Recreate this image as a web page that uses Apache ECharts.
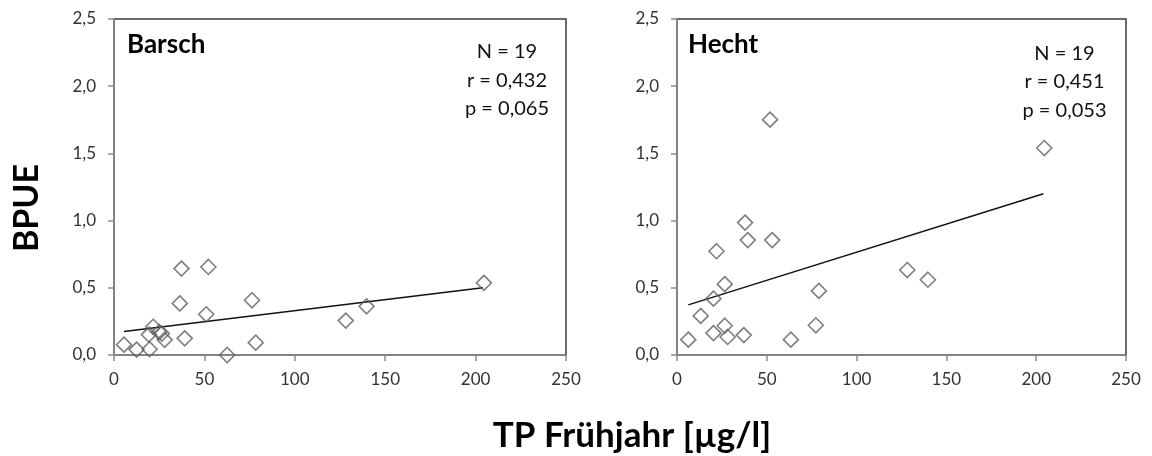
<!DOCTYPE html>
<html>
<head>
<meta charset="utf-8">
<script src="https://cdn.jsdelivr.net/npm/echarts@6/dist/echarts.min.js"></script>
<style>
html,body{margin:0;padding:0;background:#fff;}
#c{width:1152px;height:456px;}
</style>
</head>
<body>
<div id="c"></div>
<script>
// ---- data ----
const xTickValues = [0, 50, 100, 150, 200, 250];
const xTickLabels = ['0', '50', '100', '150', '200', '250'];
const yTickValues = [0, 0.5, 1.0, 1.5, 2.0, 2.5];
const yTickLabels = ['0,0', '0,5', '1,0', '1,5', '2,0', '2,5'];

const barschTP   = [5.5, 12.5, 19.7, 19.3, 21.7, 25.0, 26.5, 28.0, 37.3, 52.2, 36.4, 39.1, 51.0, 62.6, 76.3, 78.4, 128.2, 139.7, 204.6];
const barschBPUE = [0.077, 0.04, 0.043, 0.152, 0.21, 0.17, 0.16, 0.113, 0.643, 0.655, 0.384, 0.124, 0.303, 0.0, 0.407, 0.092, 0.256, 0.362, 0.537];
const barschTrendTP   = [5.5, 204.0];
const barschTrendBPUE = [0.175, 0.5];

const hechtTP   = [6.3, 13.2, 20.3, 20.3, 22.0, 26.6, 26.6, 28.2, 37.2, 37.9, 39.4, 51.8, 53.0, 63.4, 77.3, 79.0, 128.2, 139.7, 204.5];
const hechtBPUE = [0.114, 0.291, 0.163, 0.419, 0.772, 0.527, 0.218, 0.134, 0.148, 0.985, 0.855, 1.751, 0.855, 0.114, 0.221, 0.477, 0.632, 0.56, 1.54];
const hechtTrendTP   = [6.3, 204.0];
const hechtTrendBPUE = [0.373, 1.2];

const panelNames = ['Barsch', 'Hecht'];
const statsBarsch = ['N = 19', 'r = 0,432', 'p = 0,065'];
const statsHecht  = ['N = 19', 'r = 0,451', 'p = 0,053'];
const yTitle = 'BPUE';
const xTitle = 'TP Frühjahr [µg/l]';

// ---- build ----
const FONT = 'Lato, "Noto Sans", sans-serif';
const pairs = (xs, ys) => xs.map((x, i) => [x, ys[i]]);

function xAxisCfg(gi) {
  return {
    gridIndex: gi, type: 'value', min: 0, max: 250, interval: 50,
    axisLine: {show: true, lineStyle: {color: '#8c8c8c', width: 1.5}},
    axisTick: {show: true, inside: false, length: 6, lineStyle: {color: '#8c8c8c', width: 1.5}},
    axisLabel: {
      margin: 16, fontFamily: FONT, fontSize: 17, color: '#333',
      formatter: v => xTickLabels[xTickValues.indexOf(v)]
    },
    splitLine: {show: false}
  };
}
function yAxisCfg(gi) {
  return {
    gridIndex: gi, type: 'value', min: 0, max: 2.5, interval: 0.5,
    axisLine: {show: true, lineStyle: {color: '#8c8c8c', width: 1.5}},
    axisTick: {show: true, inside: false, length: 6, lineStyle: {color: '#8c8c8c', width: 1.5}},
    axisLabel: {
      margin: 18, fontFamily: FONT, fontSize: 17, color: '#333',
      formatter: v => yTickLabels[yTickValues.findIndex(t => Math.abs(t - v) < 1e-9)]
    },
    splitLine: {show: false}
  };
}
const scatterStyle = {color: 'rgba(255,255,255,0)', borderColor: '#5f5f5f', borderWidth: 1.6};

function scatterSeries(gi, xs, ys) {
  return {
    type: 'scatter', xAxisIndex: gi, yAxisIndex: gi,
    symbol: 'diamond', symbolSize: 15,
    itemStyle: scatterStyle, data: pairs(xs, ys), z: 3
  };
}
function trendSeries(gi, xs, ys) {
  return {
    type: 'line', xAxisIndex: gi, yAxisIndex: gi, symbol: 'none',
    lineStyle: {color: '#111', width: 1.4}, data: pairs(xs, ys), z: 2
  };
}
function statsText(cx, y0, lines) {
  return lines.map((t, i) => ({
    type: 'text', x: cx, y: y0 + i * 28.5, z: 10,
    style: {text: t, fontFamily: FONT, fontSize: 20, fill: '#111', align: 'center', verticalAlign: 'middle'}
  }));
}

const grids = [
  {left: 114, top: 19, width: 452, height: 336},
  {left: 677, top: 19, width: 449, height: 336}
];

const option = {
  backgroundColor: '#fff',
  animation: false,
  grid: grids.map(g => Object.assign({show: true, borderColor: '#3a3a3a', borderWidth: 1.5, backgroundColor: 'transparent'}, g)),
  xAxis: [xAxisCfg(0), xAxisCfg(1)],
  yAxis: [yAxisCfg(0), yAxisCfg(1)],
  series: [
    trendSeries(0, barschTrendTP, barschTrendBPUE),
    scatterSeries(0, barschTP, barschBPUE),
    trendSeries(1, hechtTrendTP, hechtTrendBPUE),
    scatterSeries(1, hechtTP, hechtBPUE)
  ],
  graphic: [
    {type: 'text', x: 127, y: 45, z: 10,
     style: {text: panelNames[0], fontFamily: FONT, fontWeight: 'bold', fontSize: 26, fill: '#000', verticalAlign: 'middle'}},
    {type: 'text', x: 688, y: 45, z: 10,
     style: {text: panelNames[1], fontFamily: FONT, fontWeight: 'bold', fontSize: 26, fill: '#000', verticalAlign: 'middle'}},
    ...statsText(507, 52, statsBarsch),
    ...statsText(1064.5, 53.5, statsHecht),
    {type: 'text', x: 27, y: 208, rotation: Math.PI / 2, z: 10,
     style: {text: yTitle, fontFamily: FONT, fontWeight: 'bold', fontSize: 34, fill: '#000', align: 'center', verticalAlign: 'middle'}},
    {type: 'text', x: 632, y: 436, z: 10,
     style: {text: xTitle, fontFamily: FONT, fontWeight: 'bold', fontSize: 35, fill: '#000', align: 'center', verticalAlign: 'middle'}}
  ]
};

const chart = echarts.init(document.getElementById('c'), null, {renderer: 'canvas'});
chart.setOption(option);
</script>
</body>
</html>
